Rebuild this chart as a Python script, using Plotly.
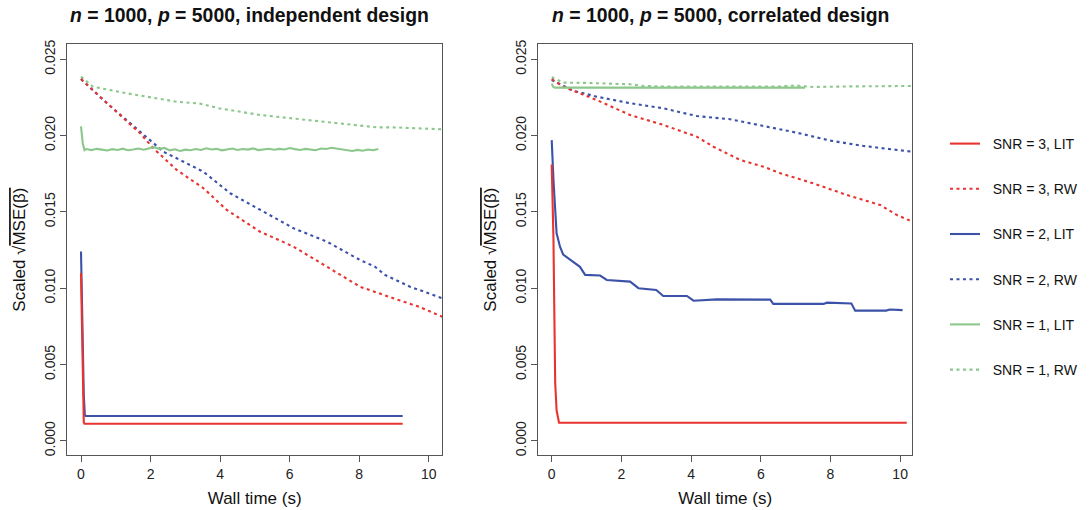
import plotly.graph_objects as go

# ---------------- data: independent design (left) ----------------
ind_red_lit_x = [0, 0.03, 0.06, 0.08, 0.1, 9.25]
ind_red_lit_y = [0.0110, 0.0060, 0.0020, 0.0012, 0.00112, 0.00112]
ind_blue_lit_x = [0, 0.04, 0.08, 0.11, 0.13, 9.25]
ind_blue_lit_y = [0.0124, 0.0070, 0.0030, 0.0017, 0.00163, 0.00163]
ind_green_lit_x = [0, 0.05, 0.1,
                   0.15, 0.3, 0.45, 0.6, 0.75, 0.9, 1.05, 1.2, 1.35, 1.5,
                   1.65, 1.8, 1.95, 2.1, 2.25, 2.4, 2.55, 2.7, 2.85, 3.0,
                   3.15, 3.3, 3.45, 3.6, 3.75, 3.9, 4.05, 4.2, 4.35, 4.5,
                   4.65, 4.8, 4.95, 5.1, 5.25, 5.4, 5.55, 5.7, 5.85, 6.0,
                   6.15, 6.3, 6.45, 6.6, 6.75, 6.9, 7.05, 7.2, 7.35, 7.5,
                   7.65, 7.8, 7.95, 8.1, 8.25, 8.4, 8.55]
ind_green_lit_y = [0.0206, 0.0195, 0.01905,
                   0.01912, 0.01905, 0.01913, 0.01908, 0.01902, 0.01911, 0.01906, 0.01914, 0.01904, 0.01909,
                   0.01915, 0.01907, 0.01918, 0.01924, 0.01913, 0.01919, 0.01903, 0.01910, 0.01899, 0.01908,
                   0.01904, 0.01912, 0.01906, 0.01917, 0.01909, 0.01913, 0.01903, 0.01911, 0.01915, 0.01906,
                   0.01912, 0.01908, 0.01916, 0.01905, 0.01910, 0.01914, 0.01907, 0.01913, 0.01909, 0.01918,
                   0.01911, 0.01906, 0.01913, 0.01908, 0.01904, 0.01915, 0.01912, 0.01920, 0.01914, 0.01908,
                   0.01903, 0.01899, 0.01906, 0.01901, 0.01909, 0.01904, 0.01912]
ind_red_rw_x = [0, 0.64, 1.31, 1.7, 2.08, 2.75, 3.52, 4.19, 5.15, 5.6, 6.11, 7.07, 8.02, 8.98, 9.7, 10.39]
ind_red_rw_y = [0.0237, 0.02233, 0.02095, 0.02015, 0.01917, 0.01775, 0.01655, 0.01513, 0.0137, 0.01325,
                0.01272, 0.01141, 0.0101, 0.00934, 0.0088, 0.00813]
ind_blue_rw_x = [0, 0.64, 1.31, 1.98, 2.37, 2.75, 3.52, 4.29, 5.15, 6.11, 7.07, 8.02, 8.45, 8.74, 9.46, 10.39]
ind_blue_rw_y = [0.0237, 0.02233, 0.02102, 0.01971, 0.01894, 0.01851, 0.01763, 0.01622, 0.01513, 0.01393,
                 0.01305, 0.01185, 0.01141, 0.01087, 0.0101, 0.00934]
ind_green_rw_x = [0, 0.35, 1.31, 2.0, 2.75, 3.4, 3.96, 5.15, 6.11, 7.55, 8.5, 8.98, 9.5, 10.39]
ind_green_rw_y = [0.02386, 0.0232, 0.02277, 0.0225, 0.02222, 0.0221, 0.02179, 0.02135, 0.02113, 0.02076,
                  0.02054, 0.02054, 0.0205, 0.02041]

# ---------------- data: correlated design (right) ----------------
cor_red_lit_x = [0, 0.03, 0.05, 0.08, 0.1, 0.14, 0.18, 0.21, 10.19]
cor_red_lit_y = [0.0181, 0.0160, 0.0132, 0.0075, 0.0038, 0.0020, 0.0014, 0.00118, 0.00118]
cor_blue_lit_x = [0, 0.05, 0.14, 0.24, 0.33, 0.53, 0.7, 0.81, 0.96, 1.39, 1.58, 2.25, 2.49, 3.0, 3.2,
                  3.88, 4.07, 4.74, 6.27, 6.36, 7.8, 7.9, 8.6, 8.71, 9.6, 9.7, 10.07]
cor_blue_lit_y = [0.0197, 0.0171, 0.0136, 0.0127, 0.0122, 0.01185, 0.0116, 0.0114, 0.01087, 0.01083,
                  0.01054, 0.01043, 0.0100, 0.00988, 0.00949, 0.00949, 0.00918, 0.00927, 0.00925,
                  0.00897, 0.00897, 0.00905, 0.00900, 0.00853, 0.00853, 0.00860, 0.00856]
cor_green_lit_x = [0, 0.05, 0.1, 7.27]
cor_green_lit_y = [0.0234, 0.02318, 0.02314, 0.02314]
cor_red_rw_x = [0, 0.33, 1.29, 2.25, 3.2, 4.16, 4.64, 5.41, 6.08, 6.56, 7.51, 8.47, 9.43, 9.9, 10.35]
cor_red_rw_y = [0.0237, 0.0232, 0.02233, 0.02135, 0.0207, 0.01993, 0.01927, 0.0184, 0.01796, 0.01753,
                0.01687, 0.01611, 0.01545, 0.0148, 0.01436]
cor_blue_rw_x = [0, 0.62, 1.29, 2.25, 3.2, 4.16, 5.12, 6.08, 7.03, 7.99, 8.95, 10.35]
cor_blue_rw_y = [0.02364, 0.02294, 0.02255, 0.02212, 0.02179, 0.02128, 0.02107, 0.02063, 0.02019,
                 0.01967, 0.01932, 0.01894]
cor_green_rw_x = [0, 0.33, 1.0, 1.8, 2.25, 2.63, 3.5, 4.5, 5.5, 6.5, 7.0, 7.5, 8.5, 9.5, 10.35]
cor_green_rw_y = [0.02382, 0.02347, 0.02345, 0.0234, 0.02336, 0.02325, 0.0232, 0.02322, 0.0232,
                  0.02322, 0.02328, 0.02318, 0.02322, 0.02325, 0.02325]

titles = ["<b><i>n</i> = 1000, <i>p</i> = 5000, independent design</b>",
          "<b><i>n</i> = 1000, <i>p</i> = 5000, correlated design</b>"]
series_names = ["SNR = 3, LIT", "SNR = 3, RW", "SNR = 2, LIT", "SNR = 2, RW", "SNR = 1, LIT", "SNR = 1, RW"]
y_ticks = [0.000, 0.005, 0.010, 0.015, 0.020, 0.025]
x_ticks = [0, 2, 4, 6, 8, 10]

RED = "#e8332f"
BLUE = "#3b52a8"
GREEN = "#8cc78c"
FONT = "Liberation Sans, Arial, Helvetica, sans-serif"
DOT = "3px,3.5px"

panels = [
    [(ind_red_lit_x, ind_red_lit_y), (ind_red_rw_x, ind_red_rw_y),
     (ind_blue_lit_x, ind_blue_lit_y), (ind_blue_rw_x, ind_blue_rw_y),
     (ind_green_lit_x, ind_green_lit_y), (ind_green_rw_x, ind_green_rw_y)],
    [(cor_red_lit_x, cor_red_lit_y), (cor_red_rw_x, cor_red_rw_y),
     (cor_blue_lit_x, cor_blue_lit_y), (cor_blue_rw_x, cor_blue_rw_y),
     (cor_green_lit_x, cor_green_lit_y), (cor_green_rw_x, cor_green_rw_y)],
]
colors = [RED, RED, BLUE, BLUE, GREEN, GREEN]
dashes = ["solid", DOT, "solid", DOT, "solid", DOT]

fig = go.Figure()
for p, panel in enumerate(panels):
    xa = "x" if p == 0 else "x2"
    ya = "y" if p == 0 else "y2"
    order = [5, 3, 1, 4, 2, 0]
    for i in order:
        xs, ys = panel[i]
        fig.add_trace(go.Scatter(
            x=xs, y=ys, mode="lines", xaxis=xa, yaxis=ya,
            name="\u00a0\u00a0" + series_names[i], legendgroup=series_names[i],
            legendrank=i + 1,
            showlegend=(p == 0),
            line=dict(color=colors[i], width=2.1, dash=dashes[i]),
            hoverinfo="skip",
        ))

ytitle = "Scaled \u221a<span style='text-decoration:overline'>MSE(\u03b2)</span>"
axis_common = dict(showline=True, linecolor="#555555", linewidth=1.3, mirror=True,
                   ticks="outside", ticklen=6, tickcolor="#555555", tickwidth=1,
                   showgrid=False, zeroline=False, automargin=False,
                   tickfont=dict(family=FONT, size=14, color="#222222"))
ydom = [1 - 455.3 / 510, 1 - 44 / 510]
layout_axes = {}
for p, (x0, x1, xr) in enumerate([(67.3, 442, [-0.394, 10.38]), (538.3, 912, [-0.385, 10.34])]):
    suffix = "" if p == 0 else "2"
    layout_axes["xaxis" + suffix] = dict(
        axis_common, domain=[x0 / 1091, x1 / 1091], range=xr, tickvals=x_ticks,
        anchor="y" + suffix,
        title=dict(text="Wall time (s)", font=dict(family=FONT, size=17, color="#111111"), standoff=10))
    layout_axes["yaxis" + suffix] = dict(
        axis_common, domain=ydom, range=[-0.00095, 0.026], tickvals=y_ticks,
        tickformat=".3f", tickangle=-90, anchor="x" + suffix,
        title=dict(text=ytitle, font=dict(family=FONT, size=17, color="#111111"), standoff=11))

fig.update_layout(
    width=1091, height=510,
    margin=dict(l=0, r=0, t=0, b=0, autoexpand=False),
    paper_bgcolor="white", plot_bgcolor="white",
    font=dict(family=FONT, size=14, color="#111111"),
    legend=dict(x=945 / 1091, y=1 - 128 / 510, xanchor="left", yanchor="top",
                tracegroupgap=24, font=dict(family=FONT, size=14, color="#111111"),
                itemwidth=30, bgcolor="rgba(0,0,0,0)"),
    **layout_axes,
)
for p, cx in enumerate([249, 720]):
    fig.add_annotation(text=titles[p], x=cx / 1091, y=1 - 15 / 510, xref="paper", yref="paper",
                       xanchor="center", yanchor="middle", showarrow=False,
                       font=dict(family=FONT, size=19.4, color="#111111"))

fig.write_html("out.html", post_script="document.body.style.margin='0';",
               config={"displayModeBar": False})
